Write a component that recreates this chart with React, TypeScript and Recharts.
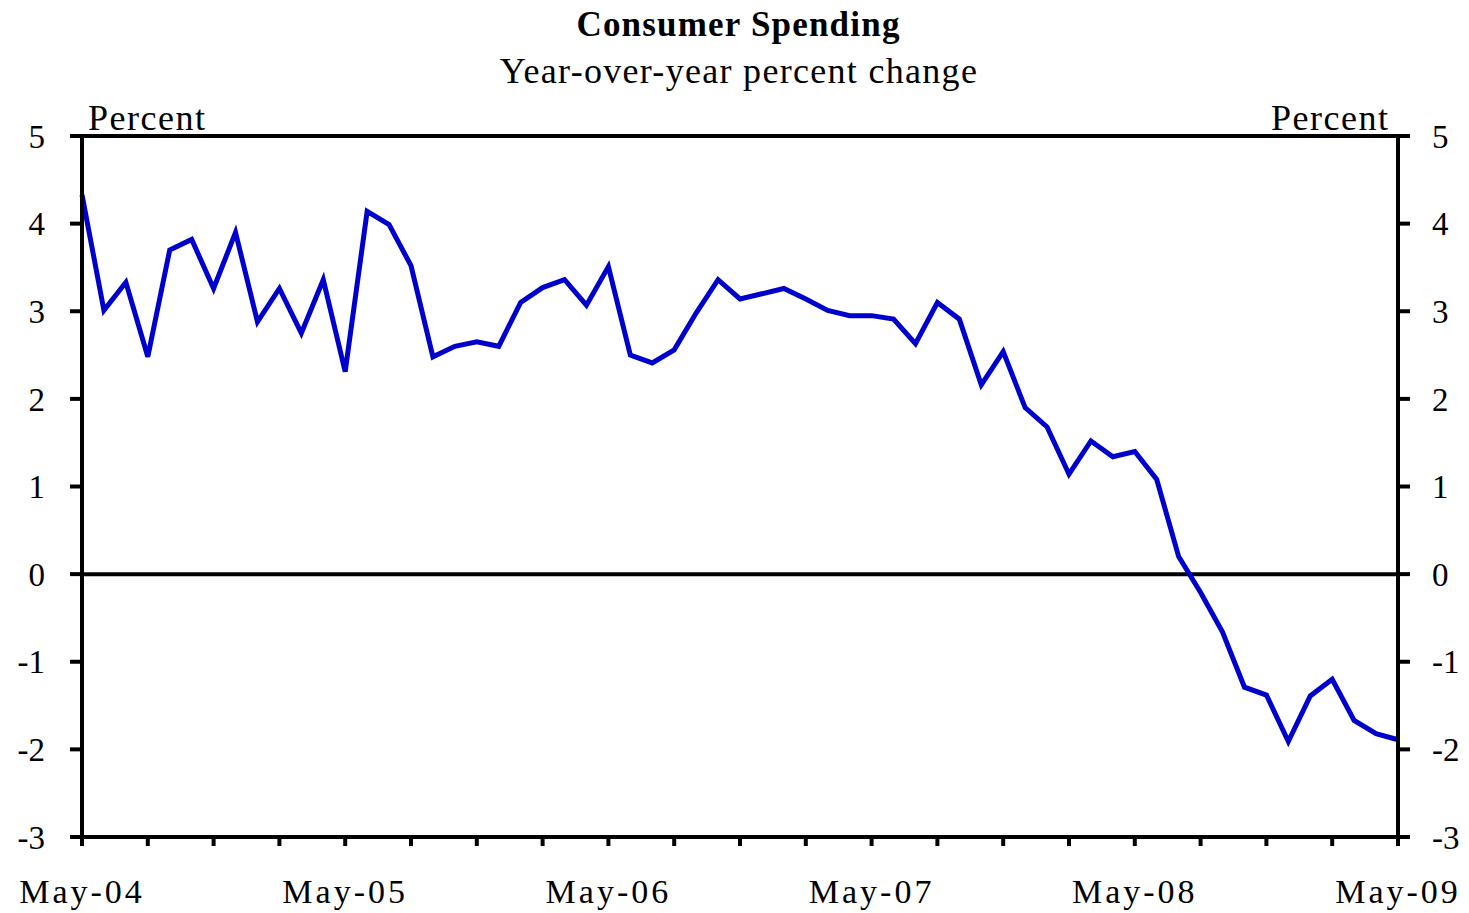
import { LineChart, Line, XAxis, YAxis, ReferenceLine } from "recharts";

const months = [
  "May-04", "Jun-04", "Jul-04", "Aug-04", "Sep-04", "Oct-04", "Nov-04", "Dec-04",
  "Jan-05", "Feb-05", "Mar-05", "Apr-05", "May-05", "Jun-05", "Jul-05", "Aug-05",
  "Sep-05", "Oct-05", "Nov-05", "Dec-05", "Jan-06", "Feb-06", "Mar-06", "Apr-06",
  "May-06", "Jun-06", "Jul-06", "Aug-06", "Sep-06", "Oct-06", "Nov-06", "Dec-06",
  "Jan-07", "Feb-07", "Mar-07", "Apr-07", "May-07", "Jun-07", "Jul-07", "Aug-07",
  "Sep-07", "Oct-07", "Nov-07", "Dec-07", "Jan-08", "Feb-08", "Mar-08", "Apr-08",
  "May-08", "Jun-08", "Jul-08", "Aug-08", "Sep-08", "Oct-08", "Nov-08", "Dec-08",
  "Jan-09", "Feb-09", "Mar-09", "Apr-09", "May-09",
];

// year-over-year % change
const spending = [
  4.33, 3.01, 3.33, 2.48, 3.7, 3.82, 3.26, 3.9, 2.88, 3.26, 2.75, 3.36,
  2.31, 4.14, 3.99, 3.52, 2.48, 2.6, 2.65, 2.6, 3.1, 3.27, 3.36, 3.07,
  3.51, 2.5, 2.41, 2.56, 2.98, 3.36, 3.14, 3.2, 3.26, 3.14, 3.01, 2.95,
  2.95, 2.91, 2.63, 3.1, 2.91, 2.16, 2.54, 1.9, 1.68, 1.14, 1.52, 1.34,
  1.4, 1.08, 0.2, -0.21, -0.66, -1.29, -1.38, -1.91, -1.39, -1.2, -1.67,
  -1.82, -1.89,
];

const yearLabels = ["May-04", "May-05", "May-06", "May-07", "May-08", "May-09"];
const yTicks = [-3, -2, -1, 0, 1, 2, 3, 4, 5];

const data = months.map((m, i) => ({ month: m, value: spending[i] }));

const font = "'Liberation Serif', 'Times New Roman', serif";
const tickStyle = { fontFamily: font, fontSize: 33, fill: "#000" };

export default function App() {
  return (
    <div style={{ position: "fixed", left: 0, top: 0, width: 1469, height: 913, background: "#fff" }}>
      <div
        style={{
          position: "absolute", left: 0, width: 1477, top: 5, textAlign: "center",
          fontFamily: font, fontSize: 35, fontWeight: "bold", letterSpacing: 1.2,
        }}
      >
        Consumer Spending
      </div>
      <div
        style={{
          position: "absolute", left: 0, width: 1478, top: 50, textAlign: "center",
          fontFamily: font, fontSize: 36, letterSpacing: 1.3,
        }}
      >
        Year-over-year percent change
      </div>
      <div style={{ position: "absolute", left: 88, top: 97, fontFamily: font, fontSize: 36, letterSpacing: 1.5 }}>
        Percent
      </div>
      <div style={{ position: "absolute", left: 1271, top: 97, fontFamily: font, fontSize: 36, letterSpacing: 1.5 }}>
        Percent
      </div>
      <LineChart width={1469} height={913} data={data} margin={{ top: 136, right: 0, bottom: 0, left: 0 }}>
        <XAxis
          dataKey="month"
          interval={2}
          height={76}
          axisLine={{ stroke: "#000", strokeWidth: 4 }}
          tickLine={{ stroke: "#000", strokeWidth: 4 }}
          tickSize={9}
          tickMargin={33}
          tick={{ ...tickStyle, fontSize: 34, letterSpacing: 3 }}
          tickFormatter={(v: string) => (yearLabels.includes(v) ? v : "")}
        />
        <YAxis
          yAxisId="left"
          width={82}
          domain={[-3, 5]}
          ticks={yTicks}
          allowDataOverflow
          axisLine={{ stroke: "#000", strokeWidth: 4 }}
          tickLine={{ stroke: "#000", strokeWidth: 4 }}
          tickSize={12}
          tickMargin={25}
          tick={tickStyle}
        />
        <YAxis
          yAxisId="right"
          orientation="right"
          width={71}
          domain={[-3, 5]}
          ticks={yTicks}
          allowDataOverflow
          axisLine={{ stroke: "#000", strokeWidth: 4 }}
          tickLine={{ stroke: "#000", strokeWidth: 4 }}
          tickSize={12}
          tickMargin={22}
          tick={tickStyle}
        />
        <ReferenceLine yAxisId="left" y={5} stroke="#000" strokeWidth={4} />
        <ReferenceLine yAxisId="left" y={0} stroke="#000" strokeWidth={4} />
        <Line
          yAxisId="left"
          type="linear"
          dataKey="value"
          stroke="#0000CC"
          strokeWidth={5}
          dot={false}
          isAnimationActive={false}
        />
      </LineChart>
    </div>
  );
}
